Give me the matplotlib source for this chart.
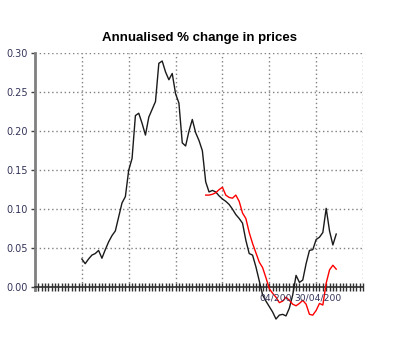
import matplotlib
matplotlib.use("Agg")
import matplotlib.pyplot as plt
import matplotlib.transforms as mtransforms

# monthly index along the x axis
black_months = list(range(14, 91))
black_values = [
    0.036, 0.030, 0.036, 0.041, 0.043, 0.047, 0.037, 0.048, 0.058, 0.066,
    0.072, 0.090, 0.108, 0.116, 0.150, 0.165, 0.220, 0.223, 0.210, 0.195,
    0.218, 0.228, 0.238, 0.287, 0.290, 0.276, 0.266, 0.274, 0.248, 0.236,
    0.185, 0.181, 0.200, 0.215, 0.198, 0.188, 0.175, 0.135, 0.122, 0.124,
    0.122, 0.117, 0.113, 0.110, 0.106, 0.100, 0.093, 0.088, 0.082, 0.060,
    0.043, 0.041, 0.026, 0.008, -0.010, -0.018, -0.025, -0.032, -0.041, -0.036,
    -0.035, -0.037, -0.027, -0.010, 0.015, 0.006, 0.009, 0.030, 0.047, 0.048,
    0.061, 0.064, 0.070, 0.101, 0.072, 0.054, 0.068,
]

red_months = list(range(51, 91))
red_values = [
    0.118, 0.118, 0.119, 0.121, 0.125, 0.128, 0.118, 0.115, 0.114, 0.118,
    0.110, 0.095, 0.088, 0.070, 0.056, 0.044, 0.032, 0.025, 0.012, -0.002,
    -0.008, -0.013, -0.020, -0.018, -0.013, -0.017, -0.022, -0.024, -0.021, -0.017,
    -0.022, -0.035, -0.036, -0.030, -0.021, -0.023, 0.005, 0.022, 0.028, 0.023,
]

y_ticks = [0.00, 0.05, 0.10, 0.15, 0.20, 0.25, 0.30]
y_labels = ["0.00", "0.05", "0.10", "0.15", "0.20", "0.25", "0.30"]
grid_months = [14, 28, 42, 56, 70, 84, 98]
date_labels = [(71.9, "04/200"), (84.6, "30/04/200")]

label_color = "#33335a"

fig = plt.figure(figsize=(4.0, 3.62), dpi=100)
ax = fig.add_axes([0.0875, 0.207, 0.82, 0.646])

ax.set_xlim(0, 98)
ax.set_ylim(0, 0.30)

for x in grid_months:
    ax.axvline(x, color="#808080", lw=1, ls=(0, (1, 2)), zorder=1)
for y in y_ticks[1:]:
    ax.axhline(y, color="#808080", lw=1, ls=(0, (1, 2)), zorder=1)

ax.plot(black_months, black_values, color="#1a1a1a", lw=1, clip_on=False, zorder=3)
ax.plot(red_months, red_values, color="red", lw=1, clip_on=False, zorder=3)

for side in ("top", "right"):
    ax.spines[side].set_visible(False)
ax.spines["left"].set_color("#808080")
ax.spines["left"].set_linewidth(2)
ax.spines["left"].set_bounds(-0.004, 0.30)
ax.spines["bottom"].set_color("#303030")
ax.spines["bottom"].set_linewidth(1.2)

ax.set_yticks(y_ticks)
ax.set_yticklabels(y_labels, fontsize=7, color=label_color)
ax.tick_params(axis="y", length=3, width=1, color="#404040", pad=2)

ax.set_xticks(range(0, 99))
ax.set_xticklabels([])
ax.tick_params(axis="x", direction="inout", length=6, width=1, color="#303030")

trans = mtransforms.blended_transform_factory(ax.transData, ax.transAxes)
for x, txt in date_labels:
    ax.text(x, -0.045, txt, transform=trans, ha="center", va="center",
            fontsize=6.6, color=label_color, zorder=4)

ax.set_title("Annualised % change in prices", fontsize=9.5, fontweight="bold",
             family="Liberation Sans", pad=9)

fig.savefig("out.png", dpi=100)
